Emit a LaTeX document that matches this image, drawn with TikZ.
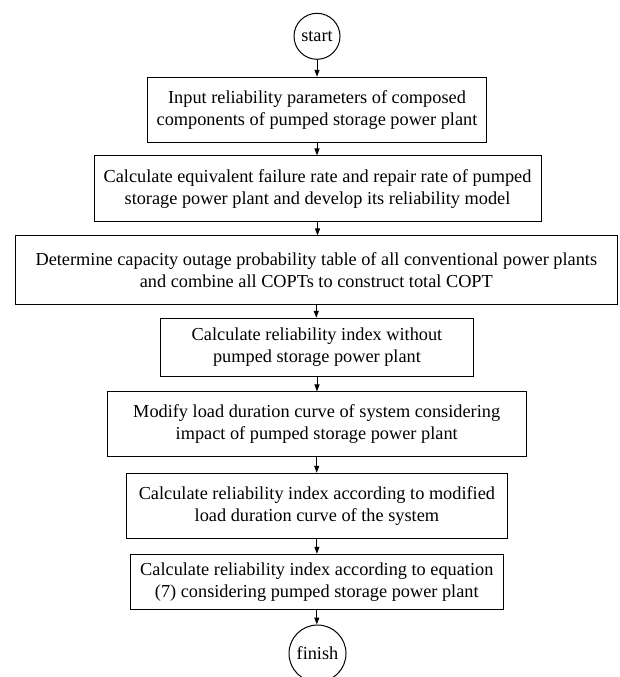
\documentclass[tikz,border=0pt]{standalone}
\usepackage{fontspec}
\setmainfont{Liberation Serif}
\usetikzlibrary{arrows.meta}
\begin{document}
\begin{tikzpicture}[x=1pt,y=-1pt,
  every node/.style={font=\fontsize{18.3}{22}\selectfont},
  stepbox/.style={draw, line width=1pt, align=center, inner sep=0pt, anchor=center},
  termcircle/.style={draw, circle, line width=1pt, inner sep=0pt, anchor=center},
  flow/.style={line width=1pt, -{Triangle[length=7pt,width=5pt]}}]
\useasboundingbox (0,0) rectangle (619,677);
\clip (0,0) rectangle (619,677);
\node[termcircle, minimum size=46pt] (start) at (317,36.3) {start};
\node[stepbox, minimum width=339.4pt, minimum height=65pt] (b1) at (317,109.8)
  {Input reliability parameters of composed\\components of pumped storage power plant};
\node[stepbox, minimum width=447pt, minimum height=65.7pt] (b2) at (317.5,188.8)
  {Calculate equivalent failure rate and repair rate of pumped\\storage power plant and develop its reliability model};
\node[stepbox, minimum width=602pt, minimum height=68.7pt] (b3) at (316.3,270.3)
  {Determine capacity outage probability table of all conventional power plants\\and combine all COPTs to construct total COPT};
\node[stepbox, minimum width=312.5pt, minimum height=58.4pt] (b4) at (317,347.5)
  {Calculate reliability index without\\pumped storage power plant};
\node[stepbox, minimum width=418.7pt, minimum height=64.7pt] (b5) at (316.7,424.3)
  {Modify load duration curve of system considering\\impact of pumped storage power plant};
\node[stepbox, minimum width=380.3pt, minimum height=65pt] (b6) at (316.9,505.8)
  {Calculate reliability index according to modified\\load duration curve of the system};
\node[stepbox, minimum width=373.5pt, minimum height=55pt] (b7) at (316.8,581.8)
  {Calculate reliability index according to equation\\(7) considering pumped storage power plant};
\node[termcircle, minimum size=57pt] (finish) at (317.5,653.5) {finish};
\draw[flow] (start.south) -- (start.south |- b1.north);
\draw[flow] (b1.south) -- (b1.south |- b2.north);
\draw[flow] (b2.south) -- (b2.south |- b3.north);
\draw[flow] (b3.south) -- (b3.south |- b4.north);
\draw[flow] (b4.south) -- (b4.south |- b5.north);
\draw[flow] (b5.south) -- (b5.south |- b6.north);
\draw[flow] (b6.south) -- (b6.south |- b7.north);
\draw[flow] (b7.south) -- (b7.south |- finish.north);
\end{tikzpicture}
\end{document}
